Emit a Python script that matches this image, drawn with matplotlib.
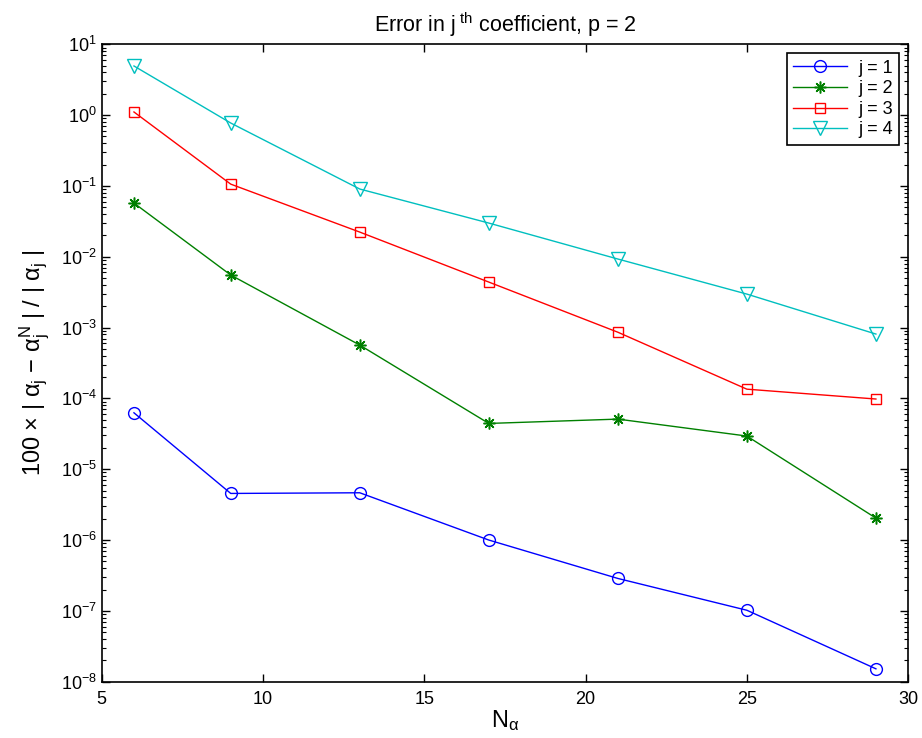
import matplotlib
matplotlib.use("Agg")
import matplotlib.pyplot as plt
from matplotlib.ticker import LogLocator, NullFormatter

plt.rcParams['font.family'] = ['Liberation Sans', 'DejaVu Sans']
plt.rcParams['mathtext.fontset'] = 'custom'
plt.rcParams['mathtext.rm'] = 'Liberation Sans'
plt.rcParams['mathtext.it'] = 'Liberation Sans'
plt.rcParams['mathtext.default'] = 'regular'

N_alpha = [6, 9, 13, 17, 21, 25, 29]
err_j1 = [6.26e-5, 4.55e-6, 4.65e-6, 1.0e-6, 2.87e-7, 1.02e-7, 1.52e-8]
err_j2 = [0.0573, 5.52e-3, 5.66e-4, 4.43e-5, 5.1e-5, 2.94e-5, 2.04e-6]
err_j3 = [1.107, 0.106, 0.0223, 4.39e-3, 8.6e-4, 1.35e-4, 9.8e-5]
err_j4 = [4.94, 0.773, 0.0904, 0.0299, 9.29e-3, 2.97e-3, 8.1e-4]
labels = ['j = 1', 'j = 2', 'j = 3', 'j = 4']

fig = plt.figure(figsize=(9.22, 7.38), dpi=100)
ax = fig.add_axes([0.1103, 0.0763, 0.985 - 0.1103, 0.940 - 0.0763])

ms = 8.5
ax.plot(N_alpha, err_j1, '-', marker='o', color='#0000ff', mfc='none', ms=ms, lw=1, label=labels[0])
ax.plot(N_alpha, err_j2, '-', marker=(8, 2, 0), color='#008000', mfc='none', ms=ms, mew=1.1, lw=1, label=labels[1])
ax.plot(N_alpha, err_j3, '-', marker='s', color='#ff0000', mfc='none', ms=ms - 1, lw=1, label=labels[2])
ax.plot(N_alpha, err_j4, '-', marker='v', color='#00bfbf', mfc='none', ms=ms + 1, lw=1, label=labels[3])

ax.set_yscale('log')
ax.set_xlim(5, 30)
ax.set_ylim(1e-8, 1e1)
ax.set_xticks([5, 10, 15, 20, 25, 30])
ax.yaxis.set_major_locator(LogLocator(base=10, numticks=20))
ax.yaxis.set_minor_locator(LogLocator(base=10, subs=range(2, 10), numticks=20))
ax.yaxis.set_minor_formatter(NullFormatter())
ax.tick_params(which='both', direction='in', top=True, right=True, labelsize=13)
ax.tick_params(axis='x', pad=7)
ax.tick_params(which='major', length=6, width=1)
ax.tick_params(which='minor', length=3, width=0.8)
for s in ax.spines.values():
    s.set_linewidth(1.2)

ax.set_title(r'Error in j$^{\mathrm{\ th}}$ coefficient, p = 2', fontsize=15.5, pad=9)
ax.set_xlabel(r'N$_\alpha$', fontsize=17, labelpad=0)
ax.set_ylabel(r'100 $\times$ | $\alpha_j$ $-$ $\alpha_j^N$ | / | $\alpha_j$ |', fontsize=17, labelpad=6)

leg = ax.legend(loc='upper right', fontsize=13, fancybox=False, framealpha=1,
                edgecolor='black', borderaxespad=0.5, handlelength=3.0,
                labelspacing=0.2, handletextpad=0.6, borderpad=0.35)
leg.get_frame().set_linewidth(1.2)

fig.savefig('out.png', dpi=100)
